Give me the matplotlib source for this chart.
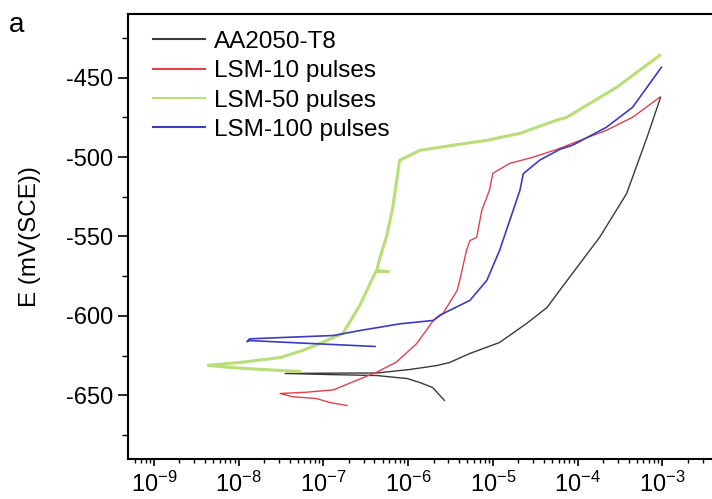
import matplotlib
matplotlib.use('Agg')
import matplotlib.pyplot as plt
import numpy as np

plt.rcParams['font.family'] = ['Liberation Sans', 'DejaVu Sans']
plt.rcParams['mathtext.default'] = 'regular'
plt.rcParams['axes.unicode_minus'] = False

# Potentiodynamic polarisation curves: log10(current density) and E (mV vs SCE)
labels = ['AA2050-T8', 'LSM-10 pulses', 'LSM-50 pulses', 'LSM-100 pulses']
colors = ['#3a3a3a', '#e0404c', '#b8de78', '#3c3cc0']
widths = [1.0, 1.0, 2.2, 1.2]

aa_logi = [-5.57, -5.71, -5.86, -6.01, -6.37, -6.92, -7.45, -6.92, -6.37, -5.98,
           -5.66, -5.51, -5.27, -4.92, -4.60, -4.36, -4.21, -4.06, -3.74, -3.42,
           -3.18, -3.02]
aa_e = [-653.2, -645.0, -641.9, -639.4, -637.5, -636.9, -636.2, -636.0, -635.9, -633.7,
        -631.2, -629.3, -623.6, -616.7, -604.7, -594.7, -583.9, -573.2, -550.6, -522.9,
        -487.6, -462.4]

l10_logi = [-6.72, -6.92, -7.08, -7.36, -7.51, -7.20, -6.88, -6.61, -6.37, -6.14,
            -5.90, -5.70, -5.59, -5.42, -5.39, -5.31, -5.27, -5.19, -5.13, -5.04,
            -5.00, -4.80, -4.53, -4.24, -4.06, -3.66, -3.35, -3.03]
l10_e = [-656.4, -654.5, -652.0, -650.8, -648.8, -648.0, -646.5, -640.6, -635.4, -629.1,
         -617.5, -602.8, -598.6, -583.9, -577.6, -558.7, -552.6, -550.6, -533.6, -521.0,
         -510.3, -504.0, -500.2, -495.2, -491.4, -483.2, -475.0, -462.4]

l50_logi = [-7.28, -7.75, -8.10, -8.36, -7.99, -7.51, -7.24, -7.04, -6.77, -6.57,
            -6.43, -6.38, -6.23, -6.37, -6.33, -6.25, -6.18, -6.10, -5.86, -5.47,
            -5.07, -4.68, -4.25, -4.13, -3.54, -3.03]
l50_e = [-634.9, -633.6, -632.4, -631.1, -629.3, -626.2, -621.7, -617.3, -611.0, -593.4,
         -577.6, -572.1, -572.1, -571.5, -563.2, -549.3, -531.7, -502.1, -495.8, -492.6,
         -489.5, -485.1, -476.9, -475.1, -456.2, -436.0]

l100_logi = [-6.39, -7.16, -7.87, -7.90, -7.87, -6.88, -6.57, -6.10, -5.70, -5.63,
             -5.27, -5.07, -4.92, -4.80, -4.68, -4.64, -4.45, -4.21, -4.06, -3.66,
             -3.35, -3.01]
l100_e = [-619.2, -617.3, -615.5, -616.2, -614.4, -612.3, -609.2, -605.0, -602.8, -599.7,
          -590.2, -577.6, -558.8, -539.9, -521.0, -510.5, -502.1, -495.2, -492.6, -481.3,
          -468.7, -443.5]

series = [(aa_logi, aa_e), (l10_logi, l10_e), (l50_logi, l50_e), (l100_logi, l100_e)]

fig = plt.figure(figsize=(7.12, 4.99), dpi=100)
ax = fig.add_axes([0.1803, 0.0802, 0.8332, 0.8918])

for (lx, e), lab, c, w in zip(series, labels, colors, widths):
    ax.plot(10.0 ** np.array(lx), e, color=c, lw=w, label=lab)

ax.set_xscale('log')
ax.set_xlim(10 ** -9.3, 10 ** -2.3)
ax.set_ylim(-690, -410)
ax.set_yticks([-650, -600, -550, -500, -450])
ax.set_yticks(np.arange(-675, -400, 50), minor=True)
ax.set_xticks([1e-9, 1e-8, 1e-7, 1e-6, 1e-5, 1e-4, 1e-3])

ax.spines['right'].set_visible(False)
for s in ['left', 'bottom', 'top']:
    ax.spines[s].set_linewidth(1.5)
ax.tick_params(which='major', direction='out', length=7, width=1.2, labelsize=17, pad=4)
ax.tick_params(which='minor', direction='out', length=4, width=1.0)
ax.tick_params(axis='x', which='major', length=5)
ax.tick_params(axis='x', which='minor', length=3)

ax.set_ylabel('E (mV(SCE))', fontsize=17.5, labelpad=18)

leg = ax.legend(loc='upper left', frameon=False, fontsize=17.5, handlelength=2.15,
                handletextpad=0.35, labelspacing=0.3, borderaxespad=0.3,
                bbox_to_anchor=(0.013, 1.0))
for h in leg.get_lines():
    h.set_linewidth(1.5)

fig.text(0.012, 0.935, 'a', fontsize=20)

fig.savefig('out.png', dpi=100)
